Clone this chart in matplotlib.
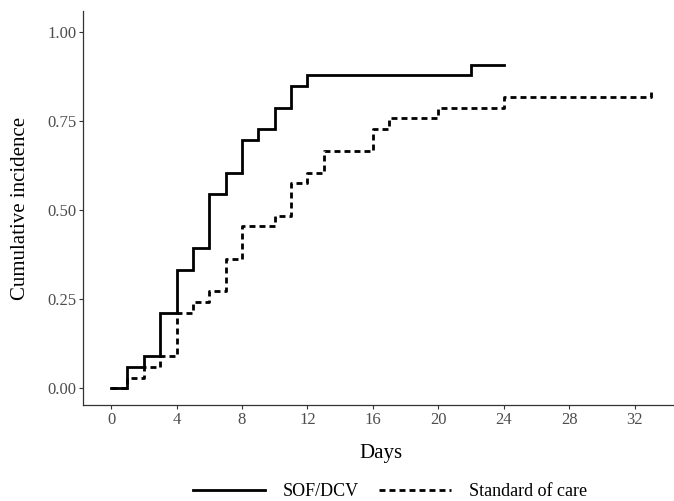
import numpy as np
import matplotlib
matplotlib.use("Agg")
from matplotlib import pyplot as plt

# cumulative incidence
sof_days = [0, 1, 2, 3, 4, 5, 6, 7, 8, 9, 10, 11, 12, 22, 24]
sof_cif = [0.0, 0.061, 0.091, 0.212, 0.333, 0.394, 0.545, 0.606, 0.697,
           0.727, 0.788, 0.848, 0.879, 0.909, 0.909]

soc_days = [0, 1, 2, 3, 4, 5, 6, 7, 8, 10, 11, 12, 13, 16, 17, 20, 24, 33]
soc_cif = [0.0, 0.030, 0.061, 0.091, 0.212, 0.242, 0.273, 0.364, 0.455,
           0.485, 0.576, 0.606, 0.667, 0.727, 0.758, 0.788, 0.818, 0.836]

labels = ["SOF/DCV", "Standard of care"]
x_ticks = [0, 4, 8, 12, 16, 20, 24, 28, 32]
y_ticks = [0.0, 0.25, 0.5, 0.75, 1.0]

plt.rcParams["font.family"] = ["Liberation Serif", "DejaVu Serif"]
plt.rcParams["lines.scale_dashes"] = False

fig = plt.figure(figsize=(6.74, 5.01), dpi=100)
ax = fig.add_axes([0.1236, 0.1916, 0.8764, 0.7866])

ax.step(sof_days, sof_cif, where="post", color="black", lw=2.0,
        solid_joinstyle="miter", label=labels[0])
ax.step(soc_days, soc_cif, where="post", color="black", lw=2.0,
        linestyle=(0, (4.3, 2.9)), dash_capstyle="butt", label=labels[1])

ax.set_xlim(-1.7, 34.4)
ax.set_ylim(-0.047, 1.06)
ax.set_xticks(x_ticks)
ax.set_yticks(y_ticks)
ax.set_yticklabels(["%.2f" % v for v in y_ticks])

for side in ["top", "right"]:
    ax.spines[side].set_visible(False)
for side in ["left", "bottom"]:
    ax.spines[side].set_color("#333333")
    ax.spines[side].set_linewidth(0.9)

ax.tick_params(axis="both", colors="#333333", labelcolor="#4d4d4d",
               labelsize=12, length=3, width=0.8, pad=2)

ax.set_xlabel("Days", fontsize=15)
ax.set_ylabel("Cumulative incidence", fontsize=15)
ax.xaxis.set_label_coords(0.504, -0.098)
ax.yaxis.set_label_coords(-0.09, 0.5)

fig.legend(loc="center", bbox_to_anchor=(0.579, 0.018), ncol=2,
           frameon=False, fontsize=13, handlelength=4.0, handletextpad=1.0,
           columnspacing=1.1, borderaxespad=0)

fig.savefig("out.png", dpi=100)
